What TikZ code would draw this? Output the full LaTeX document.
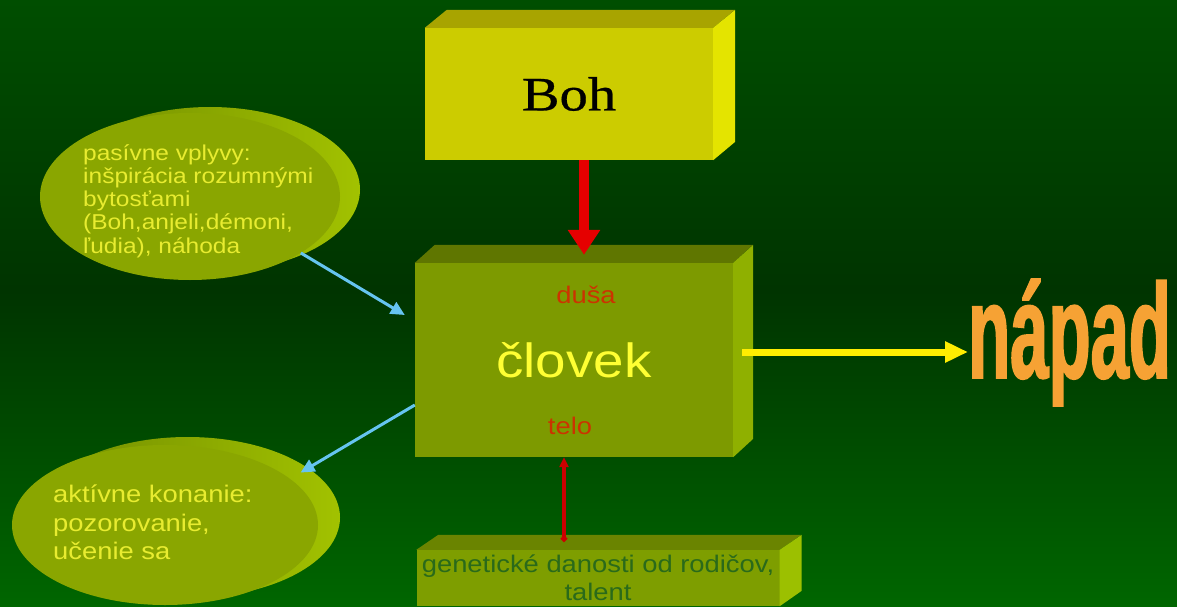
\documentclass[tikz,border=0pt]{standalone}
\usepackage{fontspec}
\setmainfont{Liberation Sans}
\newfontfamily\widesans[FakeStretch=1.14]{Liberation Sans}
\newfontfamily\wideserif[FakeStretch=1.18,FakeBold=0.6]{Liberation Serif}
\newfontfamily\narrowsans[FakeStretch=0.51,FakeBold=1.2]{Liberation Sans}
\usetikzlibrary{arrows.meta,shapes.geometric}
\definecolor{bgtop}{HTML}{004E00}
\definecolor{bgmid}{HTML}{003400}
\definecolor{bgbot}{HTML}{006600}
\definecolor{bohfront}{HTML}{CCCC00}
\definecolor{bohtop}{HTML}{A8A400}
\definecolor{bohside}{HTML}{E4E400}
\definecolor{manfront}{HTML}{7D9A00}
\definecolor{mantop}{HTML}{5F7600}
\definecolor{manside}{HTML}{8FB000}
\definecolor{genfront}{HTML}{7E9E00}
\definecolor{gentop}{HTML}{6A8400}
\definecolor{genside}{HTML}{9CC000}
\definecolor{gentext}{HTML}{2A6A1A}
\definecolor{blobfront}{HTML}{8AA600}
\definecolor{rimdark}{HTML}{6F8A00}
\definecolor{rimbright}{HTML}{A2C200}
\definecolor{blobtext}{HTML}{E8EC30}
\definecolor{manyellow}{HTML}{FFFF33}
\definecolor{soulred}{HTML}{CC3300}
\definecolor{skyarrow}{HTML}{66C4F0}
\definecolor{napadorange}{HTML}{F6A234}

\begin{document}
\begin{tikzpicture}[x=1pt,y=-1pt,
    front/.style={rectangle,inner sep=0pt},
    blob/.style={ellipse,inner sep=0pt,fill=blobfront},
    smalltext/.style={inner sep=0pt,font=\widesans\fontsize{24}{28.5}\selectfont},
    bluearrow/.style={draw=skyarrow,line width=3pt,-{Triangle[length=14pt,width=13pt]}},
    redarrow/.style={draw=red!90!black,line width=10pt,-{Triangle[length=25pt,width=31pt]}},
    thinred/.style={draw=red!80!black,line width=3.5pt,{Circle[length=6pt]}-{Triangle[length=10pt,width=9pt]}},
    yellowarrow/.style={draw=yellow!95!orange,line width=7pt,-{Triangle[length=23pt,width=20pt]}}]
    \useasboundingbox (0,0) rectangle (1177,607);
    \shade[top color=bgtop,bottom color=bgmid] (0,0) rectangle (1177,290);
    \shade[top color=bgmid,bottom color=bgbot] (0,290) rectangle (1177,607);

    % Boh
    \node[front,fill=bohfront,minimum width=288pt,minimum height=132pt,font=\wideserif\fontsize{48}{56}\selectfont] (boh) at (569,94) {Boh};
    \fill[bohtop] (boh.north west) -- ++(22,-18) -- ++(288,0) -- (boh.north east) -- cycle;
    \fill[bohside] (boh.north east) -- ++(22,-18) -- ++(0,132) -- (boh.south east) -- cycle;

    % clovek
    \node[front,fill=manfront,minimum width=318pt,minimum height=194pt,text=manyellow,font=\widesans\fontsize{48}{56}\selectfont] (clovek) at (574,360) {človek};
    \fill[mantop] (clovek.north west) -- ++(20,-18) -- ++(318,0) -- (clovek.north east) -- cycle;
    \fill[manside] (clovek.north east) -- ++(20,-18) -- ++(0,194) -- (clovek.south east) -- cycle;
    \node[smalltext,text=soulred] (dusa) at (586,295) {duša};
    \node[smalltext,text=soulred] (telo) at (570,426) {telo};

    % genetika
    \node[front,fill=genfront,minimum width=363pt,minimum height=56pt,text=gentext,align=center,font=\widesans\fontsize{24}{28}\selectfont] (gen) at (598,578) {genetické danosti od rodičov,\\ talent};
    \fill[gentop] (gen.north west) -- ++(22,-15) -- ++(363,0) -- (gen.north east) -- cycle;
    \fill[genside] (gen.north east) -- ++(22,-15) -- ++(0,56) -- (gen.south east) -- cycle;

    % vplyvy
    \shade[left color=rimdark,right color=rimbright] (210,189.5) ellipse [x radius=150, y radius=82.5];
    \node[blob,minimum width=300pt,minimum height=167pt] (pas) at (190,196.5) {};
    \node[anchor=north west,align=left,inner sep=0pt,text=blobtext,font=\widesans\fontsize{21.5}{23.3}\selectfont] (pastxt) at (83,144) {pasívne vplyvy:\\ inšpirácia rozumnými\\ bytosťami\\ (Boh,anjeli,démoni,\\ ľudia), náhoda};

    \shade[left color=rimdark,right color=rimbright] (187.5,517.5) ellipse [x radius=152.5, y radius=80.5];
    \node[blob,minimum width=306pt,minimum height=160pt] (akt) at (165,525) {};
    \node[smalltext,anchor=north west,align=left,text=blobtext] (akttxt) at (53,485) {aktívne konanie:\\ pozorovanie,\\ učenie sa};

    % napad
    \node[anchor=base west,inner sep=0pt,text=napadorange,font=\narrowsans\bfseries\fontsize{135}{140}\selectfont] (napad) at (968,378) {nápad};

    \draw[redarrow] ([xshift=15]boh.south) -- ([xshift=10,yshift=8]clovek.north);
    \draw[bluearrow] (pas.-27) -- ([xshift=-10,yshift=45]clovek.west);
    \draw[bluearrow] ([yshift=-45]clovek.west) -- ([xshift=12,yshift=5]akt.21);
    \coordinate (ystart) at ([xshift=9,yshift=8]clovek.east);
    \draw[yellowarrow] (ystart) -- (ystart -| napad.west);
    \coordinate (gtop) at ([xshift=-34,yshift=8]gen.north);
    \draw[thinred] (gtop) -- (gtop |- clovek.south);
\end{tikzpicture}
\end{document}
